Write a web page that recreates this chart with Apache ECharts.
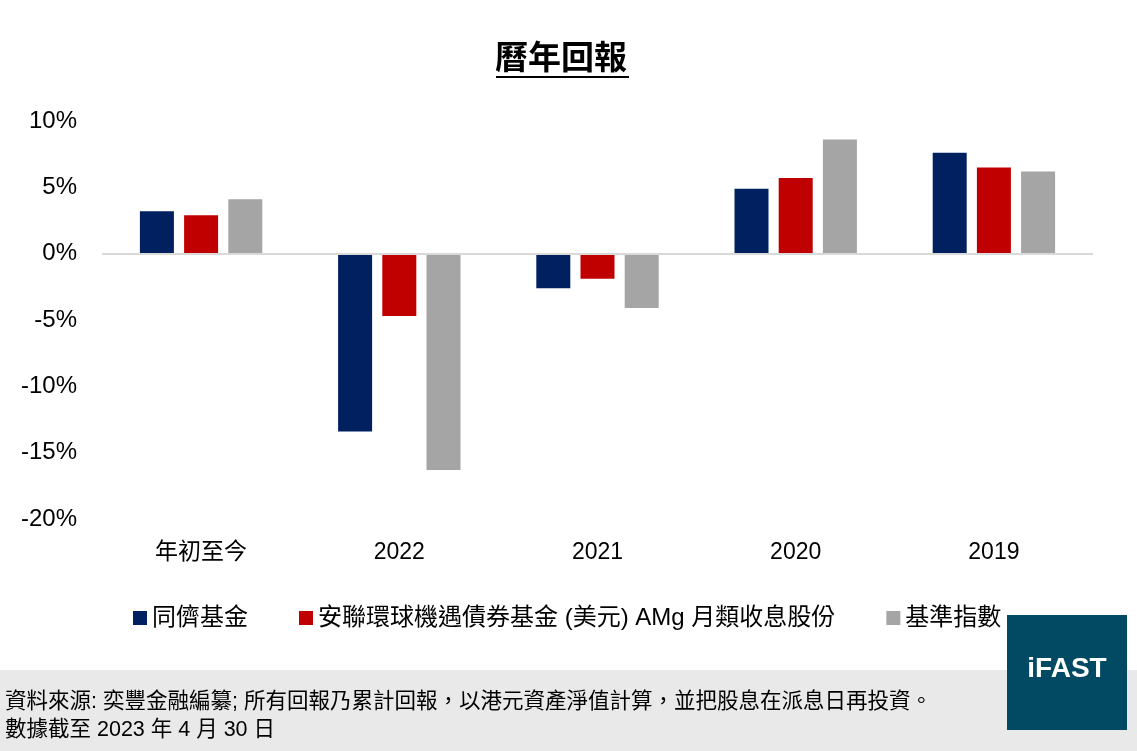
<!DOCTYPE html>
<html>
<head>
<meta charset="utf-8">
<script src="https://cdn.jsdelivr.net/npm/echarts@6/dist/echarts.min.js"></script>
<style>
  html, body { margin: 0; padding: 0; background: #fff; }
  #chart { width: 1137px; height: 751px; }
</style>
</head>
<body>
<div id="chart"></div>
<script>
// 曆年回報
const categories = ['年初至今', '2022', '2021', '2020', '2019'];
const peerFund = [3.2, -13.4, -2.6, 4.9, 7.6];
const allianzFund = [2.9, -4.7, -1.9, 5.7, 6.5];
const benchmark = [4.1, -16.3, -4.1, 8.6, 6.2];
const seriesNames = ['同儕基金', '安聯環球機遇債券基金 (美元) AMg 月類收息股份', '基準指數'];
const footerLines = [
    '資料來源: 奕豐金融編纂; 所有回報乃累計回報，以港元資產淨值計算，並把股息在派息日再投資。',
    '數據截至 2023 年 4 月 30 日'
];

const font = '"Liberation Sans", "Noto Sans CJK TC", Arial, sans-serif';
const chart = echarts.init(document.getElementById('chart'));

const option = {
    animation: false,
    color: ['#002060', '#c00000', '#a5a5a5'],
    textStyle: { fontFamily: font },
    title: {
        text: '曆年回報',
        left: 490,
        top: 38,
        textStyle: { fontSize: 33, fontWeight: 'bold', color: '#000', fontFamily: font }
    },
    grid: { left: 102, right: 44, top: 121, bottom: 232 },
    legend: {
        top: 601,
        left: 128,
        itemWidth: 14,
        itemHeight: 14,
        itemGap: 51,
        icon: 'rect',
        textStyle: { fontSize: 24, color: '#000', fontFamily: font },
        data: seriesNames
    },
    xAxis: {
        type: 'category',
        data: categories,
        axisLine: { show: false },
        axisTick: { show: false },
        axisLabel: { fontSize: 23, color: '#000', fontFamily: font, margin: 0 },
        offset: 22
    },
    yAxis: {
        type: 'value',
        min: -20,
        max: 10,
        interval: 5,
        axisLine: { show: false },
        axisTick: { show: false },
        splitLine: { show: false },
        axisLabel: {
            fontSize: 24, color: '#000', fontFamily: font, margin: 25,
            padding: [4, 0, 0, 0],
            formatter: v => v + '%'
        }
    },
    series: [
        { name: seriesNames[0], type: 'bar', data: peerFund, barWidth: 34, barGap: '30%' },
        { name: seriesNames[1], type: 'bar', data: allianzFund, barWidth: 34, barGap: '30%' },
        {
            name: seriesNames[2], type: 'bar', data: benchmark, barWidth: 34, barGap: '30%',
            markLine: {
                silent: true, symbol: 'none', label: { show: false },
                lineStyle: { color: '#d9d9d9', width: 2, type: 'solid' },
                data: [{ yAxis: 0 }]
            }
        }
    ],
    graphic: [
        // title underline
        { type: 'rect', shape: { x: 496, y: 76, width: 133, height: 2 }, style: { fill: '#000' } },
        // footer band
        { type: 'rect', z: -1, shape: { x: 0, y: 670, width: 1137, height: 81 }, style: { fill: '#e9e9e9' } },
        {
            type: 'text', left: 5, top: 691,
            style: { text: footerLines[0], fontSize: 21.5, fill: '#000', fontFamily: font }
        },
        {
            type: 'text', left: 5, top: 719,
            style: { text: footerLines[1], fontSize: 21.5, fill: '#000', fontFamily: font }
        },
        // iFAST logo
        { type: 'rect', shape: { x: 1007, y: 615, width: 120, height: 115 }, style: { fill: '#024a63' } },
        {
            type: 'text', x: 1067, y: 669,
            style: {
                text: 'iFAST', fontSize: 28, fontWeight: 'bold', fill: '#fff',
                fontFamily: '"Liberation Sans", Arial, sans-serif',
                align: 'center', verticalAlign: 'middle'
            }
        }
    ]
};
chart.setOption(option);
</script>
</body>
</html>
